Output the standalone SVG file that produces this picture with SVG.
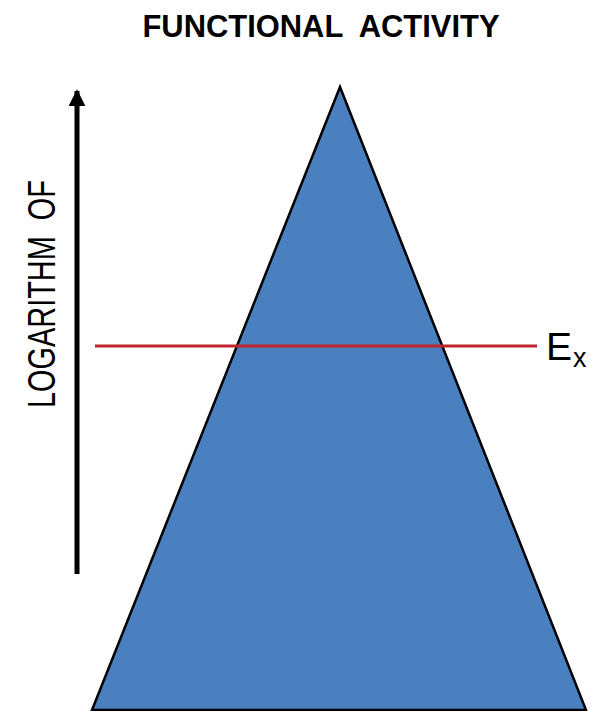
<svg xmlns="http://www.w3.org/2000/svg" width="591" height="711" viewBox="0 0 591 711">
<style>
text{font-family:"Liberation Sans",Arial,sans-serif;fill:#000;white-space:pre}
</style>
<defs>
<marker id="ah" viewBox="0 0 10 10" refX="9" refY="5" markerWidth="3.4" markerHeight="3.4" orient="auto" markerUnits="strokeWidth">
<path d="M0,0 L10,5 L0,10 Z" fill="#000"/>
</marker>
</defs>
<rect width="591" height="711" fill="#fff"/>
<text x="321" y="37" font-size="31" font-weight="bold" text-anchor="middle" textLength="357" lengthAdjust="spacingAndGlyphs" xml:space="preserve">FUNCTIONAL  ACTIVITY</text>
<g id="triangle">
<polygon points="340,87 92,710 586,710" fill="#4A80C0" stroke="#000" stroke-width="2.5" stroke-linejoin="miter"/>
</g>
<g id="connectors">
<line x1="77" y1="574" x2="77" y2="91" stroke="#000" stroke-width="5" marker-end="url(#ah)"/>
<line x1="95" y1="346" x2="537" y2="346" stroke="#C0262D" stroke-width="3"/>
</g>
<g id="axis-label">
<text transform="translate(55,408) rotate(-90)" x="0" y="0" font-size="38" textLength="228" lengthAdjust="spacingAndGlyphs" xml:space="preserve">LOGARITHM  OF</text>
</g>
<g id="ex-label">
<text x="546" y="360" font-size="39">E<tspan font-size="27" dx="1" dy="7">x</tspan></text>
</g>
</svg>
